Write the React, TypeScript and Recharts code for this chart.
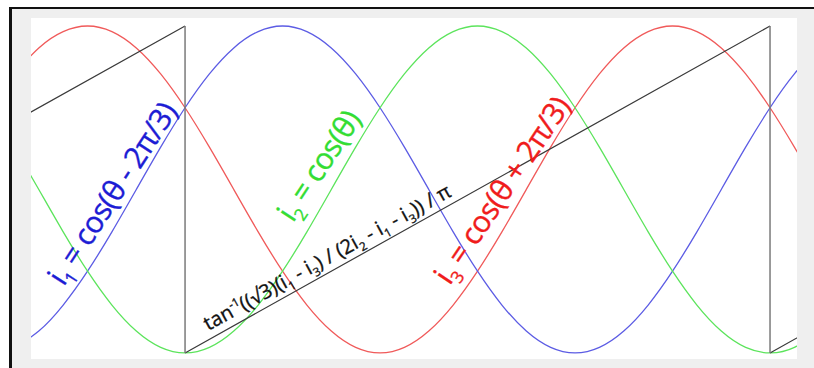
import React from "react";
import { ComposedChart, Line, XAxis, YAxis, ReferenceLine, ReferenceDot } from "recharts";

// electrical angle θ in degrees, sampled every 15°
const angles = [
  -285, -270, -255, -240, -225, -210, -195, -180, -165, -150, -135, -120,
  -105, -90, -75, -60, -45, -30, -15, 0, 15, 30, 45, 60,
  75, 90, 105, 120, 135, 150, 165, 180, 195, 210,
];

const phaseBlue = [
  -0.966, -0.866, -0.707, -0.5, -0.259, 0, 0.259, 0.5, 0.707, 0.866, 0.966, 1,
  0.966, 0.866, 0.707, 0.5, 0.259, 0, -0.259, -0.5, -0.707, -0.866, -0.966, -1,
  -0.966, -0.866, -0.707, -0.5, -0.259, 0, 0.259, 0.5, 0.707, 0.866,
];
const phaseGreen = [
  0.259, 0, -0.259, -0.5, -0.707, -0.866, -0.966, -1, -0.966, -0.866, -0.707, -0.5,
  -0.259, 0, 0.259, 0.5, 0.707, 0.866, 0.966, 1, 0.966, 0.866, 0.707, 0.5,
  0.259, 0, -0.259, -0.5, -0.707, -0.866, -0.966, -1, -0.966, -0.866,
];
const phaseRed = [
  0.707, 0.866, 0.966, 1, 0.966, 0.866, 0.707, 0.5, 0.259, 0, -0.259, -0.5,
  -0.707, -0.866, -0.966, -1, -0.966, -0.866, -0.707, -0.5, -0.259, 0, 0.259, 0.5,
  0.707, 0.866, 0.966, 1, 0.966, 0.866, 0.707, 0.5, 0.259, 0,
];

// recovered angle / π, with breaks at the wrap points
const sawAngles = [-285, -180, -180, -180, 180, 180, 180, 210];
const sawValues = [0.417, 1, null, -1, 1, null, -1, -0.833];
const wrapAngles = [-180, 180];

const phaseData = angles.map((a, i) => ({
  theta: a, blue: phaseBlue[i], green: phaseGreen[i], red: phaseRed[i],
}));
const sawData = sawAngles.map((a, i) => ({ theta: a, saw: sawValues[i] }));

type Part = [string, "" | "sub" | "sup"];

const labels: { parts: Part[]; theta: number; v: number; angle: number; color: string; size: number; spacing: number }[] = [
  { parts: [["i", ""], ["1", "sub"], [" = cos(θ - 2π/3)", ""]], theta: -219.5, v: -0.06, angle: -57, color: "#1c1cd4", size: 30, spacing: -0.7 },
  { parts: [["i", ""], ["2", "sub"], [" = cos(θ)", ""]], theta: -92.3, v: 0.11, angle: -56.5, color: "#33dd33", size: 30, spacing: -0.7 },
  { parts: [["i", ""], ["3", "sub"], [" = cos(θ + 2π/3)", ""]], theta: 20.3, v: -0.04, angle: -56, color: "#f01c1c", size: 30, spacing: -0.7 },
  {
    parts: [
      ["tan", ""], ["-1", "sup"], ["((√3)(i", ""], ["1", "sub"], [" - i", ""], ["3", "sub"],
      [") / (2i", ""], ["2", "sub"], [" - i", ""], ["1", "sub"], [" - i", ""], ["3", "sub"], [")) / π", ""],
    ],
    theta: -90.5, v: -0.452, angle: -29, color: "#111", size: 20, spacing: 0,
  },
];

function RotatedText({ cx, cy, angle, color, size, spacing, parts }: any) {
  let shift = 0;
  return (
    <text x={cx} y={cy} transform={`rotate(${angle} ${cx} ${cy})`} textAnchor="middle"
      fill={color} stroke={color} strokeWidth={0.35} letterSpacing={spacing}
      fontSize={size} fontFamily="'Open Sans', sans-serif" style={{ whiteSpace: "pre" }}>
      {parts.map(([t, k]: Part, i: number) => {
        const target = k === "sub" ? 0.25 * size : k === "sup" ? -0.4 * size : 0;
        const dy = target - shift;
        shift = target;
        return (
          <tspan key={i} dy={dy} fontSize={k ? size * 0.58 : size}>{t}</tspan>
        );
      })}
    </text>
  );
}

export default function App() {
  return (
    <div style={{ position: "absolute", left: 0, top: 0, width: 814, height: 368, overflow: "hidden", background: "#fff" }}>
      <div style={{
        position: "absolute", left: 9, top: 7, width: 820, height: 370,
        borderTop: "2px solid #111", borderLeft: "3px solid #111", borderBottom: "6px solid #111",
        background: "#efefef", boxSizing: "border-box",
      }} />
      <div style={{ position: "absolute", left: 31, top: 18, width: 766, height: 341, background: "#fff" }}>
        <ComposedChart width={766} height={341} data={phaseData} margin={{ top: 0, right: 0, bottom: 0, left: 0 }}>
          <XAxis dataKey="theta" type="number" domain={[-274.8, 196.6]} allowDataOverflow hide />
          <YAxis type="number" domain={[-1.037, 1.049]} allowDataOverflow hide />
          <Line dataKey="red" type="natural" stroke="#f05a5a" strokeWidth={1.3} dot={false} isAnimationActive={false} />
          <Line dataKey="blue" type="natural" stroke="#5c5ce4" strokeWidth={1.3} dot={false} isAnimationActive={false} />
          <Line dataKey="green" type="natural" stroke="#5ce45c" strokeWidth={1.3} dot={false} isAnimationActive={false} />
          <Line data={sawData} dataKey="saw" type="linear" stroke="#3a3a3a" strokeWidth={1.2}
            dot={false} connectNulls={false} isAnimationActive={false} />
          {wrapAngles.map((a) => (
            <ReferenceLine key={a} segment={[{ x: a, y: 1 }, { x: a, y: -1 }]} stroke="#7a7a7a" strokeWidth={1.5} />
          ))}
          {labels.map((l, i) => (
            <ReferenceDot key={i} x={l.theta} y={l.v} r={1}
              shape={(p: any) => <RotatedText cx={p.cx} cy={p.cy} {...l} />} />
          ))}
        </ComposedChart>
      </div>
    </div>
  );
}
